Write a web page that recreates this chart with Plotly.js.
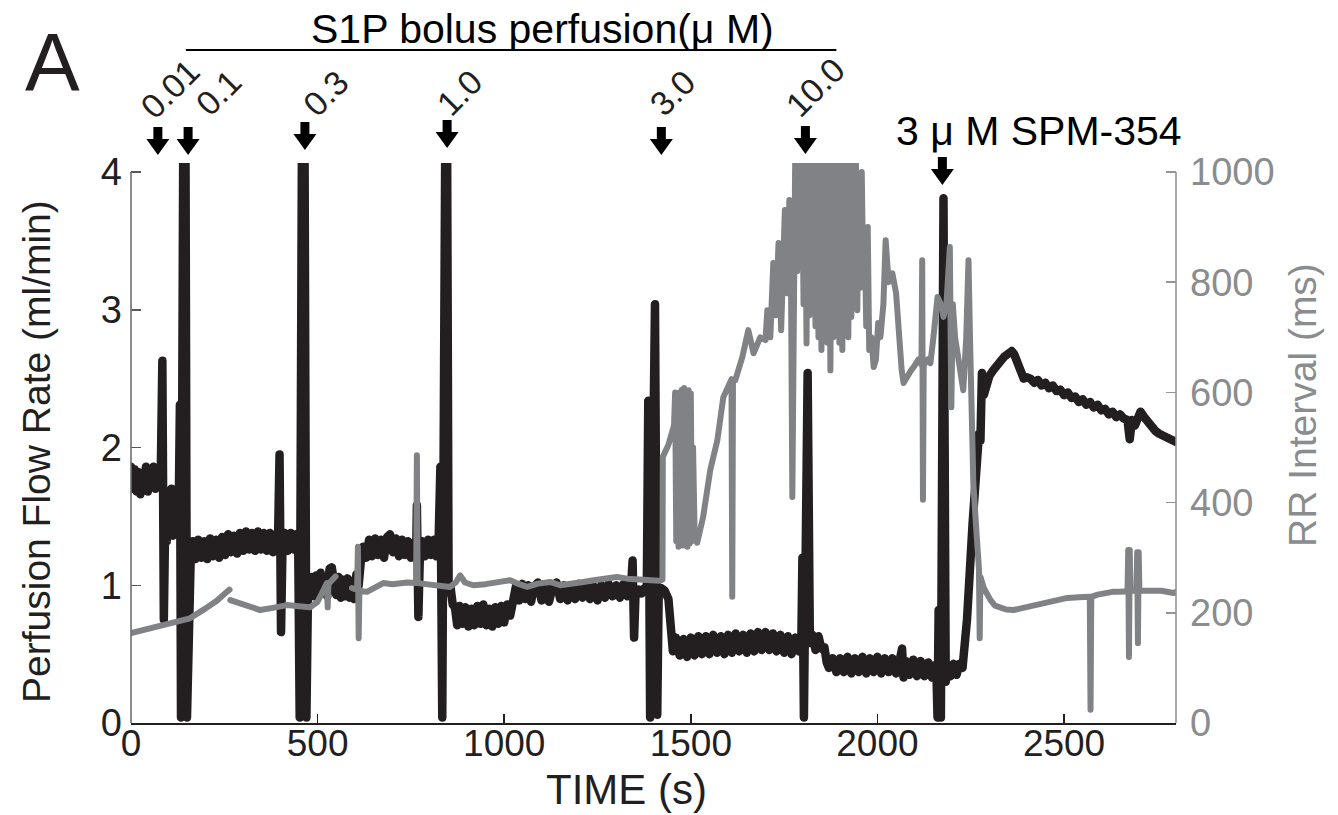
<!DOCTYPE html>
<html><head><meta charset="utf-8">
<script src="https://cdn.plot.ly/plotly-3.0.1.min.js"></script>
<style>
html,body{margin:0;padding:0;background:#fff;}
#chart{width:1338px;height:815px;}
#chart .scatterlayer path.js-line{stroke-linejoin:round !important;stroke-linecap:round !important;}
</style>
</head><body><div id="chart"></div>
<script>
// ---- Perfusion flow rate (ml/min), left axis ----
const flowTime = [
  0,5,10,15,20,25,30,35,40,45,50,55,60,65,70,75,
  80,84,88,92,96,100,104,108,112,116,120,124,128,
  131,134,140,146,150,155,160,
  165,172,180,188,196,204,212,220,228,236,244,252,260,268,276,284,292,300,308,316,324,332,340,348,356,364,372,380,388,
  394,398,402,406,412,420,428,436,442,448,
  452,458,465,470,474,
  484,490,496,502,508,514,520,526,532,538,544,550,556,562,568,574,580,586,592,598,604,610,616,622,
  630,638,646,654,662,670,678,686,694,702,710,718,726,734,742,750,758,764,
  766,770,774,780,788,796,804,812,818,824,829,834,
  842,847,851,
  856,862,868,874,880,888,896,904,912,920,928,936,944,952,960,968,976,984,992,1000,1008,1016,
  1024,1032,1040,1048,1056,1064,1072,1080,1090,1100,1110,1120,1130,1140,1150,1160,1170,1180,1190,1200,1210,1220,1230,1240,1250,1260,1270,1280,1290,1300,1310,1320,1330,1340,
  1344,1348,1352,1360,1368,1376,1382,1386,1391,1404,1410,1414,1420,1430,1440,1446,1452,
  1460,1470,1480,1490,1500,1510,1520,1530,1540,1550,1560,1570,1580,1590,1600,1610,1620,1630,1640,1650,1660,1670,1680,1690,1700,1710,1720,1730,1740,1750,1760,1770,1780,1790,
  1796,1799,1803,1813,1819,
  1826,1834,1842,1850,1858,1864,1870,
  1880,1890,1900,1910,1920,1930,1940,1950,1960,1970,1980,1990,2000,2010,2020,2030,2040,2050,2060,2066,2070,2076,2086,2096,2106,2116,2126,2136,2146,2154,
  2158,2161,2164,2167,2170,2177,2183,
  2188,2196,2204,2212,2220,2228,
  2240,2255,2266,2272,2276,2280,2285,2292,2300,2310,2320,2330,2340,2350,2360,2366,2375,2385,2392,2400,
  2410,2420,2430,2440,2450,2460,2470,2480,2490,2500,2510,2520,2530,2540,2550,2560,2570,2580,2590,2600,2610,2620,2630,2640,2650,2660,2670,2676,2682,2690,2696,2705,2715,2725,2735,2745,2755,2765,2775,2785,2795,2800
];
const flowRate = [
  1.86,1.70,1.84,1.68,1.82,1.66,1.80,1.70,1.86,1.68,1.84,1.72,1.86,1.70,1.82,1.74,
  1.85,2.63,0.75,1.55,1.32,1.64,1.40,1.70,1.36,1.62,1.44,1.68,1.58,
  2.31,0.04,4.2,4.2,0.04,1.10,1.20,
  1.32,1.19,1.33,1.20,1.32,1.19,1.34,1.21,1.33,1.20,1.35,1.22,1.37,1.24,1.36,1.23,1.38,1.25,1.39,1.26,1.38,1.25,1.39,1.26,1.38,1.25,1.38,1.24,1.37,
  1.34,1.95,0.66,1.30,1.38,1.25,1.38,1.26,1.37,1.30,
  0.04,4.2,4.2,0.04,0.90,
  1.06,0.92,1.07,0.93,1.09,0.95,1.06,0.92,1.12,1.13,1.02,0.93,1.06,0.91,1.04,0.92,1.05,0.91,1.03,0.90,1.08,1.00,1.18,1.28,
  1.20,1.33,1.21,1.34,1.22,1.33,1.20,1.35,1.37,1.24,1.34,1.21,1.33,1.22,1.32,1.20,1.31,1.22,
  1.58,0.77,1.22,1.32,1.21,1.33,1.22,1.33,1.21,1.30,1.86,0.04,
  4.2,4.2,0.95,
  0.99,0.86,0.84,0.71,0.85,0.72,0.84,0.70,0.83,0.71,0.85,0.72,0.86,0.71,0.83,0.70,0.84,0.72,0.85,0.73,0.86,0.78,
  0.88,1.00,0.89,1.01,0.90,1.00,0.88,0.99,1.02,0.89,1.00,0.88,0.99,1.02,0.90,1.00,0.89,0.99,0.90,1.01,0.91,1.00,0.90,0.99,0.89,1.00,0.91,1.01,0.92,1.00,0.91,1.01,0.92,1.00,
  1.18,0.62,0.95,0.97,0.94,0.98,0.95,2.34,0.04,3.04,0.06,0.97,0.98,0.96,0.90,0.70,0.52,
  0.62,0.49,0.61,0.48,0.62,0.49,0.63,0.50,0.63,0.50,0.64,0.51,0.63,0.50,0.64,0.51,0.65,0.52,0.64,0.51,0.65,0.52,0.66,0.53,0.66,0.53,0.65,0.52,0.64,0.51,0.63,0.50,0.62,0.52,
  0.56,1.20,0.04,2.54,0.58,
  0.64,0.53,0.63,0.54,0.55,0.44,0.40,
  0.47,0.37,0.47,0.37,0.48,0.36,0.47,0.37,0.48,0.36,0.47,0.37,0.48,0.36,0.47,0.37,0.47,0.36,0.46,0.54,0.33,0.45,0.35,0.46,0.34,0.45,0.34,0.44,0.33,0.42,
  0.38,0.04,0.82,0.30,0.04,3.81,0.30,
  0.42,0.34,0.43,0.35,0.43,0.40,
  0.75,1.45,1.95,2.10,2.05,2.54,2.38,2.47,2.52,2.56,2.60,2.63,2.66,2.68,2.70,2.68,2.60,2.54,2.50,2.51,
  2.50,2.47,2.49,2.45,2.47,2.43,2.45,2.41,2.42,2.38,2.40,2.36,2.37,2.33,2.35,2.31,2.33,2.29,2.31,2.27,2.28,2.24,2.26,2.22,2.24,2.21,2.20,2.06,2.20,2.16,2.20,2.26,2.22,2.18,2.14,2.12,2.10,2.09,2.07,2.06,2.05,2.04
];

// ---- RR interval (ms), right axis (null = gap in recording) ----
const rrTime = [
  0,40,80,120,158,200,230,257,264,265,
  266,290,318,346,380,418,450,480,500,507,515,520,525,527,529,534,542,548,552,
  592,600,606,608,610,612,632,660,676,700,721,740,764,766,768,790,820,855,870,882,895,917,950,989,1016,1040,1062,1090,1123,1150,1180,1212,1240,1270,1302,1330,1360,1391,1415,1424,
  1425,1440,1455,1458,1461,1464,1467,1470,1473,1476,1479,1482,1485,1488,1491,1494,1497,1500,1503,1506,1510,1517,1533,1552,1571,1587,1606,1609,1611,1613,1619,1638,1654,1668,1686,1700,
  1705,1713,1721,1728,1735,1742,1752,1758,1764,1768,1772,1776,1780,1785,1790,1794,
  1798,1802,1806,1810,1814,1818,1822,1826,1830,1834,1838,1842,1846,1850,1854,1858,1862,1866,1870,1874,1878,1882,1886,1890,1894,1898,1902,1906,1910,1914,1918,1922,1926,1930,1934,1938,1942,1946,1950,1954,1958,1962,1966,1970,1974,1978,
  1984,1990,1996,2002,2008,2016,2022,2030,2040,2050,2058,2065,2070,2080,2090,2097,2110,2118,2120,2122,
  2124,2135,2142,2150,2161,2170,2177,2185,2190,2194,2198,2202,2208,2214,2222,2230,2238,2244,2248,2257,
  2266,2272,2274,2276,2285,2295,2303,2315,2330,2345,2365,2390,2419,2440,2460,2480,2509,2540,2569,2571,
  2573,2590,2606,2630,2650,2670,2672,2674,2676,2678,2694,2696,2698,2700,2702,2730,2760,2794,2800
];
const rrInterval = [
  163,170,177,184,190,208,222,238,242,null,
  223,218,211,205,209,214,212,210,220,229,240,248,254,210,252,256,262,266,null,
  245,243,245,320,154,240,238,250,254,252,254,255,254,486,254,252,250,247,255,268,255,250,252,256,259,252,247,253,256,250,254,256,259,262,265,262,260,259,258,260,
  483,505,540,600,330,595,320,600,325,605,322,608,325,600,320,604,326,598,330,500,350,327,374,459,513,591,622,624,229,622,622,664,713,671,700,695,
  749,700,835,740,871,713,931,780,949,850,410,900,1050,820,1050,860,
  1050,760,1050,689,1050,740,1050,786,1050,720,1050,700,1050,677,1050,720,1050,690,1050,640,1050,700,1050,713,1050,690,1050,677,1050,720,1050,700,1050,737,1050,760,1050,749,980,790,1000,804,880,720,900,677,
  700,646,660,726,700,760,876,800,816,780,680,640,617,630,640,646,660,650,840,405,
  650,660,653,700,773,760,737,760,800,864,573,760,700,677,640,604,700,840,700,435,
  340,280,154,265,245,230,223,213,209,206,205,209,214,218,221,224,227,228,229,24,
  229,233,236,238,238,239,314,120,314,240,240,310,145,310,240,241,240,236,238
];

// ---- axes / annotations content ----
const xTicks = [0,500,1000,1500,2000,2500];
const flowTicks = [0,1,2,3,4];
const rrTicks = [0,200,400,600,800,1000];
const doseTimes = [72,153,466,847,1421,1807];
const doseLabels = ['0.01','0.1','0.3','1.0','3.0','10.0'];
const spmTime = 2174;
const spmLabel = '3 \u03bc M SPM-354';
const bolusSpan = [147,1890];
const bolusTitle = 'S1P bolus perfusion(\u03bc M)';

// ---- layout helpers (pixels -> paper) ----
const FONT = 'Liberation Sans, Arial, Helvetica, sans-serif';
const L = 131, R = 1176, T = 163, B = 723;
const W = R - L, H = B - T;
const px = v => (v - L) / W;
const py = v => (B - v) / H;
const BLACK = '#231f20', GRAY = '#808285', AXGRAY = '#939598', TXTGRAY = '#8a8c8e';

const labelShift = [12, 30, 21, 12, 11, 10];
const labelY = [89, 93, 93, 93, 93, 87];
const arrowTip = [155, 155, 150, 148, 155, 154];
const arrowPath = 'M0,0 L-11.5,16 L-4.5,16 L-4.5,28 L4.5,28 L4.5,16 L11.5,16 Z';

const annotations = [];
const shapes = [];
doseTimes.forEach((t, i) => {
  annotations.push({x: t, xref: 'x', xshift: labelShift[i], y: py(labelY[i]), yref: 'paper',
    text: doseLabels[i], showarrow: false, textangle: -45, xanchor: 'center', yanchor: 'middle',
    font: {family: FONT, size: 34, color: BLACK}});
  shapes.push({type: 'path', xref: 'x', yref: 'paper', xsizemode: 'pixel', ysizemode: 'pixel',
    xanchor: t, yanchor: py(arrowTip[i]), path: arrowPath, fillcolor: '#000', line: {width: 0}, layer: 'above'});
});
shapes.push({type: 'path', xref: 'x', yref: 'paper', xsizemode: 'pixel', ysizemode: 'pixel',
  xanchor: spmTime, yanchor: py(185), path: arrowPath, fillcolor: '#000', line: {width: 0}, layer: 'above'});
annotations.push({x: spmTime, xref: 'x', xshift: 97, y: py(131), yref: 'paper', text: spmLabel,
  showarrow: false, xanchor: 'center', yanchor: 'middle', font: {family: FONT, size: 41, color: '#000'}});
// bolus bracket
shapes.push({type: 'line', xref: 'x', yref: 'paper', x0: bolusSpan[0], x1: bolusSpan[1], y0: py(50), y1: py(50),
  line: {color: '#000', width: 2.2}});
annotations.push({x: px(542), xref: 'paper', y: py(29), yref: 'paper', text: bolusTitle, showarrow: false,
  xanchor: 'center', yanchor: 'middle', font: {family: FONT, size: 41, color: '#000'}});
// panel letter
annotations.push({x: px(52), xref: 'paper', y: py(62), yref: 'paper', text: 'A', showarrow: false,
  xanchor: 'center', yanchor: 'middle', font: {family: FONT, size: 82, color: BLACK}});
// axis titles
annotations.push({x: px(626), xref: 'paper', y: py(789), yref: 'paper', text: 'TIME (s)', showarrow: false,
  xanchor: 'center', yanchor: 'middle', font: {family: FONT, size: 42, color: BLACK}});
annotations.push({x: px(37), xref: 'paper', y: py(452), yref: 'paper', text: 'Perfusion Flow Rate (ml/min)',
  showarrow: false, textangle: -90, xanchor: 'center', yanchor: 'middle', font: {family: FONT, size: 39, color: BLACK}});
annotations.push({x: px(1302), xref: 'paper', y: py(405), yref: 'paper', text: 'RR Interval (ms)',
  showarrow: false, textangle: -90, xanchor: 'center', yanchor: 'middle', font: {family: FONT, size: 39, color: TXTGRAY}});
// y axis lines (0..max tick only)
shapes.push({type: 'line', xref: 'paper', yref: 'y', x0: 0, x1: 0, y0: 0, y1: flowTicks[flowTicks.length - 1],
  line: {color: '#6d6e71', width: 1.6}});
shapes.push({type: 'line', xref: 'paper', yref: 'y2', x0: 1, x1: 1, y0: 0, y1: rrTicks[rrTicks.length - 1],
  line: {color: AXGRAY, width: 1.6}});

// axis top sits slightly above the 4 / 1000 tick (spikes are clipped there)
const yTop = 4 * (B - T) / (B - 172);

const data = [
  {x: flowTime, y: flowRate, type: 'scatter', mode: 'lines', yaxis: 'y', name: 'Flow',
   line: {color: BLACK, width: 8.5}, hoverinfo: 'skip'},
  {x: rrTime, y: rrInterval, type: 'scatter', mode: 'lines', yaxis: 'y2', name: 'RR',
   line: {color: GRAY, width: 6}, connectgaps: false, hoverinfo: 'skip'}
];

const layout = {
  width: 1338, height: 815,
  margin: {l: L, r: 1338 - R, t: T, b: 815 - B},
  paper_bgcolor: '#fff', plot_bgcolor: '#fff',
  showlegend: false,
  font: {family: FONT, color: BLACK},
  xaxis: {range: [0, 2800], tickvals: xTicks, ticktext: xTicks.map(String), ticks: 'inside', ticklen: 9,
    tickwidth: 1.5, tickcolor: BLACK, showline: true, linecolor: BLACK, linewidth: 2, ticklabelstandoff: -13,
    showgrid: false, zeroline: false, tickfont: {family: FONT, size: 37, color: BLACK}, fixedrange: true},
  yaxis: {range: [0, yTop], tickvals: flowTicks, ticktext: flowTicks.map(String), ticks: 'inside', ticklen: 10,
    tickwidth: 1.5, tickcolor: '#58595b', showline: false, showgrid: false, zeroline: false, ticklabelstandoff: 8,
    tickfont: {family: FONT, size: 38, color: BLACK}, fixedrange: true},
  yaxis2: {overlaying: 'y', side: 'right', range: [0, yTop * 250], tickvals: rrTicks, ticktext: rrTicks.map(String),
    ticks: 'inside', ticklen: 10, tickwidth: 1.5, tickcolor: AXGRAY, showline: false, showgrid: false,
    zeroline: false, ticklabelstandoff: 13, tickfont: {family: FONT, size: 38, color: TXTGRAY}, fixedrange: true},
  annotations: annotations,
  shapes: shapes
};

Plotly.newPlot('chart', data, layout, {displayModeBar: false, staticPlot: true});
</script>
</body></html>
